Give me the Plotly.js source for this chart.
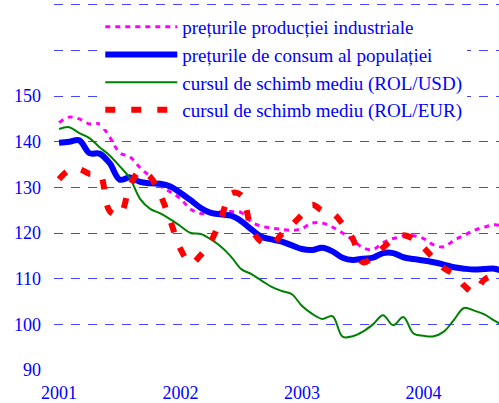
<!DOCTYPE html>
<html>
<head>
<meta charset="utf-8">
<script src="https://cdn.plot.ly/plotly-3.0.1.min.js"></script>
<style>
  html, body { margin: 0; padding: 0; background: #ffffff; }
  #chart { width: 499px; height: 403px; }
</style>
</head>
<body>
<div id="chart"></div>
<script>
// Monthly indices, January 2001 onward
const seriesNames = [
  "pre\u021burile produc\u021biei industriale",
  "pre\u021burile de consum al popula\u021biei",
  "cursul de schimb mediu (ROL/USD)",
  "cursul de schimb mediu (ROL/EUR)"
];

const ppi = [144.2, 145.4, 145.0, 143.9, 143.9, 141.0, 137.6, 136.7, 134.3, 132.4,
             130.3, 129.0, 127.5, 125.2, 124.3, 124.3, 124.7, 124.7, 124.5, 122.4,
             121.5, 121.1, 120.8, 120.6, 121.0, 122.2, 122.2, 121.3, 120.0, 118.5,
             116.8, 116.4, 117.9, 118.8, 119.4, 119.4, 118.8, 117.4, 117.0, 118.4,
             119.5, 120.6, 121.3, 121.8, 121.5];

const cpi = [139.8, 140.0, 140.3, 137.5, 137.4, 135.3, 131.7, 132.2, 131.2, 130.9,
             130.8, 130.2, 128.8, 127.2, 125.5, 124.4, 124.1, 123.8, 122.6, 120.8,
             119.2, 118.6, 118.1, 117.3, 116.5, 116.3, 116.8, 116.0, 114.6, 114.1,
             114.4, 114.6, 115.6, 115.6, 114.7, 114.3, 114.0, 113.6, 113.1, 112.5,
             112.2, 112.0, 112.1, 112.2, 111.5];

const usd = [142.8, 143.2, 141.9, 140.8, 138.8, 137.0, 134.6, 132.0, 127.5, 125.3,
             124.3, 123.0, 121.5, 120.0, 119.8, 118.6, 117.0, 114.8, 112.1, 111.0,
             109.6, 108.2, 107.3, 106.6, 104.0, 102.3, 101.2, 101.8,  97.3,  97.4,
              98.4, 100.0, 102.0,  99.8, 101.6,  98.0,  97.5,  97.4,  98.4, 101.0,
             103.6, 103.0, 102.2, 100.8,  99.6];

const eur = [131.8, 133.8, 134.0, 133.0, 133.0, 124.8, 124.0, 130.3, 133.6, 132.3,
             128.4, 122.6, 116.5, 113.3, 115.2, 118.2, 123.2, 128.7, 128.3, 121.0,
             118.0, 117.5, 119.8, 121.8, 124.0, 126.2, 124.9, 124.4, 122.0, 118.8,
             113.6, 114.8, 116.8, 118.7, 119.5, 118.7, 116.8, 114.4, 112.3, 111.0,
             108.5, 107.0, 109.8, 110.5, 108.5];

const yearLabels = ["2001", "2002", "2003", "2004"];
const yearFirstMonth = [0, 12, 24, 36];
const yTickValues = [90, 100, 110, 120, 130, 140, 150, 160, 170];
const yTickLabels = ["90", "100", "110", "120", "130", "140", "150", "", ""];

const monthIndex = ppi.map((_, i) => i);

const blueText = "#0000ff";
const fontFamily = "'Liberation Serif', 'Times New Roman', serif";

function trace(name, values, color, width, dash, group) {
  return {
    type: "scatter", mode: "lines", name: name, x: monthIndex, y: values,
    legendgroup: group,
    line: { color: color, width: width, dash: dash, shape: "spline", smoothing: 1 },
    hoverinfo: "skip"
  };
}

const data = [
  trace(seriesNames[0], ppi, "#ff00ff", 3, "5px,5px", "a"),
  trace(seriesNames[1], cpi, "#0000ff", 6, "solid", "b"),
  trace(seriesNames[2], usd, "#008000", 2, "solid", "c"),
  trace(seriesNames[3], eur, "#ff0000", 6, "10px,16px", "d")
];

const xRange = [-0.5, 43.45];
const yRange = [90, 170.4];

const layout = {
  width: 499, height: 403,
  margin: { l: 54, r: 0, t: 3, b: 33, pad: 0 },
  paper_bgcolor: "#ffffff", plot_bgcolor: "#ffffff",
  font: { family: fontFamily, size: 18, color: blueText },
  showlegend: true,
  legend: {
    x: 0.104, y: 0.9866, xanchor: "left", yanchor: "top",
    bgcolor: "#ffffff", borderwidth: 0,
    font: { family: fontFamily, size: 19, color: blueText },
    tracegroupgap: 6, itemwidth: 72, traceorder: "normal"
  },
  xaxis: {
    range: xRange, showgrid: false, zeroline: false, showline: false,
    tickvals: yearFirstMonth, ticktext: yearLabels, ticks: "",
    ticklabelstandoff: 10,
    tickfont: { family: fontFamily, size: 18, color: blueText },
    fixedrange: true
  },
  xaxis2: {
    overlaying: "x", anchor: "free", position: (100 - yRange[0]) / (yRange[1] - yRange[0]),
    range: xRange, showgrid: false, zeroline: false,
    showline: true, linecolor: "#7070ff", linewidth: 2,
    ticks: "outside", ticklen: 6, tickwidth: 1.5, tickcolor: "#3030ff",
    tickvals: yearFirstMonth.map(v => v - 0.5), showticklabels: false,
    fixedrange: true
  },
  yaxis: {
    range: yRange, tickvals: yTickValues, ticktext: yTickLabels,
    showgrid: true, gridcolor: "#4545ff", gridwidth: 1, griddash: "9px,8px",
    zeroline: false, showline: false, ticks: "",
    ticklabelstandoff: 12,
    tickfont: { family: fontFamily, size: 18, color: blueText },
    fixedrange: true
  }
};

Plotly.newPlot("chart", data, layout, { staticPlot: true, displayModeBar: false });
</script>
</body>
</html>
